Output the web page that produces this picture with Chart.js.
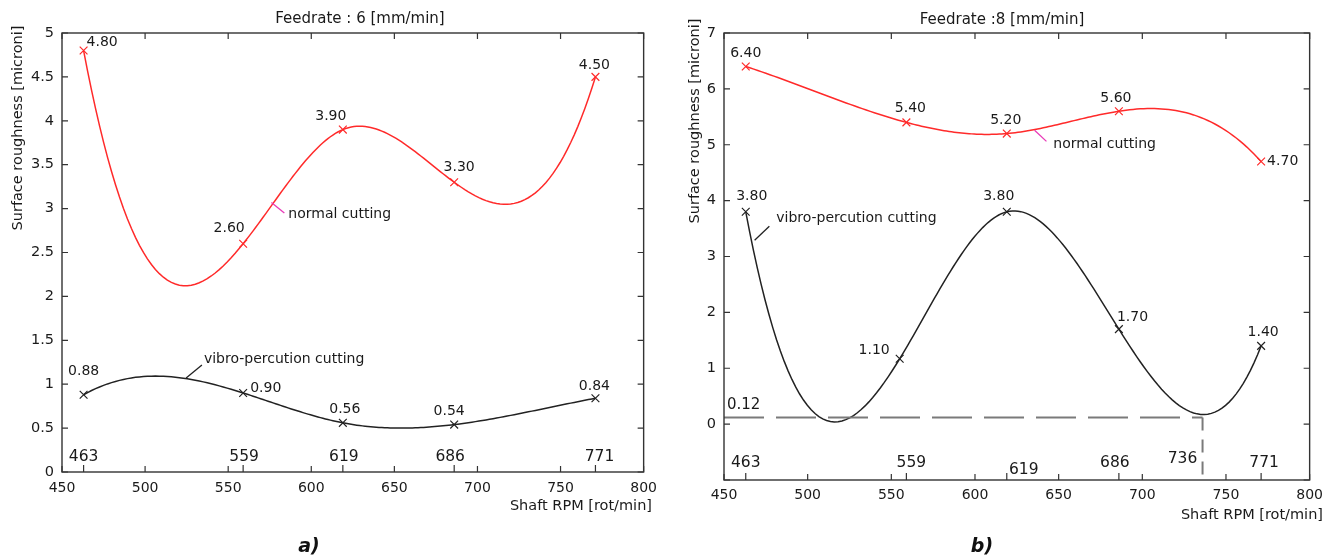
<!DOCTYPE html>
<html>
<head>
<meta charset="utf-8">
<script src="https://cdn.jsdelivr.net/npm/chart.js@4.4.1/dist/chart.umd.min.js"></script>
<style>
  body { margin: 0; background: #fff; width: 1330px; height: 559px; position: relative; overflow: hidden; }
  .panel { position: absolute; top: 0; width: 665px; height: 559px; }
</style>
</head>
<body>
<div class="panel" style="left:0"><canvas id="chartA" width="665" height="559"></canvas></div>
<div class="panel" style="left:665px"><canvas id="chartB" width="665" height="559"></canvas></div>
<script>
// Shaft RPM values (same for both feedrates)
const rpm = [463, 559, 619, 686, 771];

// Feedrate 6 mm/min
const normalA = [4.80, 2.60, 3.90, 3.30, 4.50];
const vibroA = [0.88, 0.90, 0.56, 0.54, 0.84];

// Feedrate 8 mm/min
// the second vibro marker is drawn at about 555 rpm / 1.17, a bit off its "1.10" label
const normalB = [6.40, 5.40, 5.20, 5.60, 4.70];
const rpmVibroB = [463, 555, 619, 686, 771];
const vibroB = [3.80, 1.17, 3.80, 1.70, 1.40];
const vibroBLabels = ['3.80', '1.10', '3.80', '1.70', '1.40'];
const minRpmB = 736;
const minRoughB = 0.12;

// axis ticks
const xTicks = [450, 500, 550, 600, 650, 700, 750, 800];
const yTicksA = [0, 0.5, 1, 1.5, 2, 2.5, 3, 3.5, 4, 4.5, 5];
const yTicksB = [-1, 0, 1, 2, 3, 4, 5, 6, 7];

const FONT = '"DejaVu Sans", "Liberation Sans", Arial, sans-serif';
const RED = '#ff2a2a';
const BLACK = '#222';

// Matlab style not-a-knot spline: second derivatives at the knots
function splineM(xs, ys) {
  const n = xs.length, h = [];
  for (let i = 0; i < n - 1; i++) h.push(xs[i + 1] - xs[i]);
  const A = Array.from({ length: n }, () => new Array(n).fill(0));
  const r = new Array(n).fill(0);
  A[0][0] = h[1]; A[0][1] = -(h[0] + h[1]); A[0][2] = h[0];
  for (let i = 1; i < n - 1; i++) {
    A[i][i - 1] = h[i - 1]; A[i][i] = 2 * (h[i - 1] + h[i]); A[i][i + 1] = h[i];
    r[i] = 6 * ((ys[i + 1] - ys[i]) / h[i] - (ys[i] - ys[i - 1]) / h[i - 1]);
  }
  A[n - 1][n - 3] = h[n - 2]; A[n - 1][n - 2] = -(h[n - 3] + h[n - 2]); A[n - 1][n - 1] = h[n - 3];
  for (let c = 0; c < n; c++) {
    let p = c;
    for (let k = c + 1; k < n; k++) if (Math.abs(A[k][c]) > Math.abs(A[p][c])) p = k;
    [A[c], A[p]] = [A[p], A[c]];
    [r[c], r[p]] = [r[p], r[c]];
    for (let k = c + 1; k < n; k++) {
      const f = A[k][c] / A[c][c];
      for (let j = c; j < n; j++) A[k][j] -= f * A[c][j];
      r[k] -= f * r[c];
    }
  }
  const M = new Array(n).fill(0);
  for (let c = n - 1; c >= 0; c--) {
    let s = r[c];
    for (let j = c + 1; j < n; j++) s -= A[c][j] * M[j];
    M[c] = s / A[c][c];
  }
  return M;
}

function text(ctx, str, x, y, align, size, color) {
  ctx.font = (size || 14) + 'px ' + FONT;
  ctx.fillStyle = color || '#1a1a1a';
  ctx.textAlign = align || 'center';
  ctx.textBaseline = 'middle';
  ctx.fillText(str, x, y);
}

const paperPlugin = {
  id: 'paper',
  beforeDatasetsDraw(chart) {
    const { ctx, chartArea: a, scales: { x, y } } = chart;
    ctx.save();
    ctx.beginPath();
    ctx.rect(a.left, a.top, a.width, a.height);
    ctx.clip();
    chart.data.datasets.forEach(ds => {
      if (!ds.spline) return;
      const xs = ds.data.map(p => p.x), ys = ds.data.map(p => p.y);
      const M = splineM(xs, ys);
      ctx.beginPath();
      for (let i = 0; i < xs.length - 1; i++) {
        const h = xs[i + 1] - xs[i];
        const b = (ys[i + 1] - ys[i]) / h - h * (2 * M[i] + M[i + 1]) / 6;
        for (let k = 0; k <= 40; k++) {
          const t = h * k / 40;
          const v = ys[i] + b * t + M[i] * t * t / 2 + (M[i + 1] - M[i]) * t * t * t / (6 * h);
          const px = x.getPixelForValue(xs[i] + t), py = y.getPixelForValue(v);
          if (i === 0 && k === 0) ctx.moveTo(px, py); else ctx.lineTo(px, py);
        }
      }
      ctx.strokeStyle = ds.borderColor;
      ctx.lineWidth = 1.5;
      ctx.stroke();
    });
    ctx.restore();
  },
  afterDraw(chart, args, opts) {
    const { ctx, chartArea: a, scales: { x, y } } = chart;
    ctx.save();
    // frame with inward ticks
    ctx.strokeStyle = '#333';
    ctx.lineWidth = 1.4;
    ctx.strokeRect(a.left, a.top, a.width, a.height);
    ctx.beginPath();
    x.ticks.forEach(t => {
      const px = x.getPixelForValue(t.value);
      ctx.moveTo(px, a.bottom); ctx.lineTo(px, a.bottom - 6);
      ctx.moveTo(px, a.top); ctx.lineTo(px, a.top + 6);
    });
    rpm.forEach(v => {
      const px = x.getPixelForValue(v);
      ctx.moveTo(px, a.bottom); ctx.lineTo(px, a.bottom - 7);
    });
    y.ticks.forEach(t => {
      const py = y.getPixelForValue(t.value);
      ctx.moveTo(a.left, py); ctx.lineTo(a.left + 6, py);
      ctx.moveTo(a.right, py); ctx.lineTo(a.right - 6, py);
    });
    ctx.lineWidth = 1.2;
    ctx.stroke();

    // value labels next to the markers
    chart.data.datasets.forEach(ds => {
      if (!ds.offsets) return;
      ds.data.forEach((p, i) => {
        const o = ds.offsets[i];
        const str = ds.labels ? ds.labels[i] : p.y.toFixed(2);
        text(ctx, str, x.getPixelForValue(p.x) + o[0], y.getPixelForValue(p.y) + o[1], o[2]);
      });
    });

    // rpm labels along the bottom of the plot
    opts.rpmLabels.forEach(l => {
      text(ctx, String(l.v), x.getPixelForValue(l.v) + l.dx, a.bottom + l.dy, 'center', 15.5);
    });

    // leader lines and curve names
    opts.notes.forEach(n => {
      ctx.beginPath();
      ctx.moveTo(x.getPixelForValue(n.from[0]), y.getPixelForValue(n.from[1]));
      ctx.lineTo(x.getPixelForValue(n.to[0]), y.getPixelForValue(n.to[1]));
      ctx.strokeStyle = n.color;
      ctx.lineWidth = 1.3;
      ctx.stroke();
      text(ctx, n.text, x.getPixelForValue(n.at[0]), y.getPixelForValue(n.at[1]), 'left', 14);
    });
    (opts.extra || []).forEach(e => {
      text(ctx, e.text, x.getPixelForValue(e.at[0]) + e.dx, y.getPixelForValue(e.at[1]) + e.dy, 'left', 15);
    });

    // titles
    text(ctx, opts.title.text, opts.title.x, opts.title.y, 'center', 15);
    text(ctx, opts.xTitle.text, opts.xTitle.x, opts.xTitle.y, 'right', 14.5);
    ctx.save();
    ctx.translate(opts.yTitle.x, opts.yTitle.y);
    ctx.rotate(-Math.PI / 2);
    text(ctx, opts.yTitle.text, 0, 0, 'center', 14.5);
    ctx.restore();
    ctx.font = 'bold italic 19px ' + FONT;
    ctx.fillStyle = '#111';
    ctx.textAlign = 'center';
    ctx.textBaseline = 'middle';
    ctx.fillText(opts.caption.text, opts.caption.x, opts.caption.y);
    ctx.restore();
  }
};

function series(xs, ys, color, offsets, labels) {
  return {
    data: xs.map((v, i) => ({ x: v, y: ys[i] })),
    spline: true,
    offsets: offsets,
    labels: labels,
    borderColor: color,
    pointStyle: 'crossRot',
    pointRadius: 5.5,
    pointBorderColor: color,
    pointBorderWidth: 1.2,
    pointBackgroundColor: color,
    showLine: false
  };
}

function makeChart(id, p) {
  return new Chart(document.getElementById(id), {
    type: 'scatter',
    data: { datasets: p.datasets },
    options: {
      responsive: false,
      animation: false,
      events: [],
      layout: { padding: { top: p.area.top, right: 665 - p.area.right, left: 0, bottom: 0 } },
      scales: {
        x: {
          type: 'linear', min: 450, max: 800,
          afterBuildTicks: s => { s.ticks = xTicks.map(v => ({ value: v })); },
          afterFit: s => { s.height = 559 - p.area.bottom; },
          grid: { display: false, drawTicks: false },
          border: { display: false },
          ticks: { padding: p.xPad, color: '#1a1a1a', font: { family: FONT, size: 14 }, maxRotation: 0, autoSkip: false }
        },
        y: {
          type: 'linear', min: p.yTicks[0], max: p.yTicks[p.yTicks.length - 1],
          afterBuildTicks: s => { s.ticks = p.yTicks.map(v => ({ value: v })); },
          afterFit: s => { s.width = p.area.left; },
          grid: { display: false, drawTicks: false },
          border: { display: false },
          ticks: {
            padding: 8, color: '#1a1a1a', font: { family: FONT, size: 14.5 }, autoSkip: false,
            callback: v => (v < 0 ? '' : String(v))
          }
        }
      },
      plugins: {
        legend: { display: false },
        tooltip: { enabled: false },
        paper: p.paper
      }
    },
    plugins: [paperPlugin]
  });
}

makeChart('chartA', {
  area: { left: 62, top: 33, right: 648, bottom: 472 },
  xPad: 8,
  yTicks: yTicksA,
  datasets: [
    series(rpm, normalA, RED, [[3, -8, 'left'], [-14, -15, 'center'], [-12, -13, 'center'], [5, -15, 'center'], [-1, -12, 'center']]),
    series(rpm, vibroA, BLACK, [[0, -23, 'center'], [7, -5, 'left'], [2, -13, 'center'], [-5, -13, 'center'], [-1, -12, 'center']])
  ],
  paper: {
    title: { text: 'Feedrate : 6 [mm/min]', x: 360, y: 19 },
    xTitle: { text: 'Shaft RPM [rot/min]', x: 652, y: 506 },
    yTitle: { text: 'Surface roughness [microni]', x: 18, y: 128 },
    caption: { text: 'a)', x: 309, y: 547 },
    rpmLabels: [
      { v: 463, dx: 0, dy: -15 }, { v: 559, dx: 1, dy: -15 }, { v: 619, dx: 1, dy: -15 },
      { v: 686, dx: -4, dy: -15 }, { v: 771, dx: 4, dy: -15 }
    ],
    notes: [
      { text: 'normal cutting', from: [576, 3.07], to: [583.8, 2.95], at: [586.2, 2.93], color: '#e83ab8' },
      { text: 'vibro-percution cutting', from: [524.7, 1.07], to: [534.2, 1.22], at: [535.4, 1.28], color: '#222' }
    ]
  }
});

makeChart('chartB', {
  area: { left: 59, top: 33, right: 653, bottom: 480 },
  xPad: 7,
  yTicks: yTicksB,
  datasets: [
    series(rpm, normalB, RED, [[0, -13, 'center'], [4, -14, 'center'], [-1, -13, 'center'], [-3, -13, 'center'], [6, 0, 'left']]),
    series(rpmVibroB, vibroB, BLACK, [[6, -15, 'center'], [-10, -8, 'right'], [-8, -15, 'center'], [-2, -12, 'left'], [2, -14, 'center']], vibroBLabels),
    {
      data: [{ x: 450, y: minRoughB }, { x: minRpmB, y: minRoughB }],
      showLine: true, borderColor: '#7a7a7a', borderWidth: 2, borderDash: [40, 12], pointRadius: 0
    },
    {
      data: [{ x: minRpmB, y: minRoughB }, { x: minRpmB, y: yTicksB[0] }],
      showLine: true, borderColor: '#7a7a7a', borderWidth: 2, borderDash: [13, 9], pointRadius: 0
    }
  ],
  paper: {
    title: { text: 'Feedrate :8 [mm/min]', x: 337, y: 20 },
    xTitle: { text: 'Shaft RPM [rot/min]', x: 658, y: 515 },
    yTitle: { text: 'Surface roughness [microni]', x: 30, y: 121 },
    caption: { text: 'b)', x: 317, y: 547 },
    rpmLabels: [
      { v: 463, dx: 0, dy: -17 }, { v: 559, dx: 5, dy: -17 }, { v: 619, dx: 17, dy: -10 },
      { v: 686, dx: -4, dy: -17 }, { v: minRpmB, dx: -20, dy: -21 }, { v: 771, dx: 3, dy: -17 }
    ],
    notes: [
      { text: 'normal cutting', from: [635.6, 5.26], to: [642.7, 5.06], at: [646.8, 5.01], color: '#e83ab8' },
      { text: 'vibro-percution cutting', from: [468.3, 3.29], to: [477.1, 3.54], at: [481.2, 3.69], color: '#222' }
    ],
    extra: [{ text: minRoughB.toFixed(2), at: [450, minRoughB], dx: 3, dy: -12 }]
  }
});
</script>
</body>
</html>
